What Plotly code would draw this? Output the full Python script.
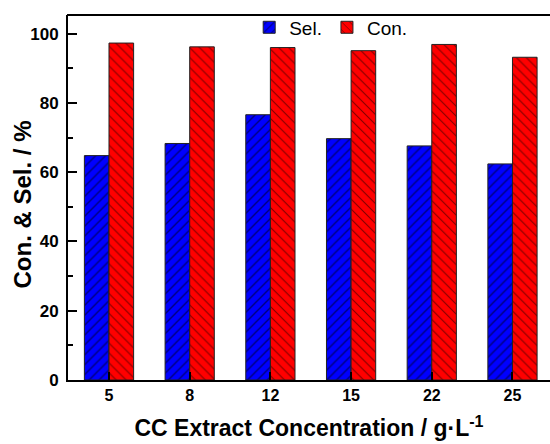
import plotly.graph_objects as go

# Extract concentrations (g/L) and measured performance (%)
concentrations = ["5", "8", "12", "15", "22", "25"]
selectivity = [64.8, 68.3, 76.6, 69.7, 67.6, 62.4]
conversion = [97.3, 96.2, 96.0, 95.1, 96.9, 93.2]

positions = list(range(len(concentrations)))
font_family = "Liberation Sans, Arial, sans-serif"

fig = go.Figure()
fig.add_trace(go.Bar(
    x=positions, y=selectivity, name="Sel.",
    marker=dict(color="#0000ff", line=dict(color="#222222", width=1),
                pattern=dict(shape="/", fgcolor="#000000", size=7, solidity=0.2)),
))
fig.add_trace(go.Bar(
    x=positions, y=conversion, name="Con.",
    marker=dict(color="#ff0000", line=dict(color="#222222", width=1),
                pattern=dict(shape="\\", fgcolor="#000000", size=7, solidity=0.15)),
))

fig.update_layout(
    width=550, height=444,
    margin=dict(l=68, r=0, t=15, b=64),
    paper_bgcolor="white", plot_bgcolor="white",
    barmode="group", bargap=0.39, bargroupgap=0,
    font=dict(family=font_family, color="black"),
    legend=dict(orientation="h", x=0.545, xanchor="center", y=1.018, yanchor="top",
                font=dict(size=19), bgcolor="rgba(0,0,0,0)",
                itemwidth=30, tracegroupgap=0),
    showlegend=True,
    annotations=[dict(
        text="Con. & Sel. / %", textangle=-90,
        xref="paper", yref="paper", x=-0.094, y=0.48,
        xanchor="center", yanchor="middle", showarrow=False,
        font=dict(size=24, weight="bold", family=font_family),
    )],
    # top frame line of the plot box
    shapes=[dict(type="line", xref="paper", yref="paper", x0=-0.002, x1=1.01,
                 y0=1, y1=1, line=dict(color="black", width=2))],
)

fig.update_xaxes(
    range=[-0.508, 5.465],
    tickvals=positions, ticktext=concentrations,
    ticks="inside", ticklen=8, tickwidth=2, tickcolor="black",
    showline=True, linewidth=2, linecolor="black", mirror=False,
    showgrid=False, zeroline=False,
    tickfont=dict(size=16, weight="bold"),
    title=dict(text="CC Extract Concentration / g·L<sup>-1</sup>",
               font=dict(size=23, weight="bold"), standoff=17),
)
fig.update_yaxes(
    range=[0, 105.4],
    tickvals=[0, 20, 40, 60, 80, 100],
    ticks="inside", ticklen=9, tickwidth=2, tickcolor="black",
    minor=dict(tickvals=[10, 30, 50, 70, 90], ticks="inside", ticklen=5,
               tickwidth=2, tickcolor="black"),
    showline=True, linewidth=2, linecolor="black", mirror=False,
    showgrid=False, zeroline=False,
    tickfont=dict(size=17, weight="bold"),
    ticklabelstandoff=4,
)

fig.write_html("out.html")
